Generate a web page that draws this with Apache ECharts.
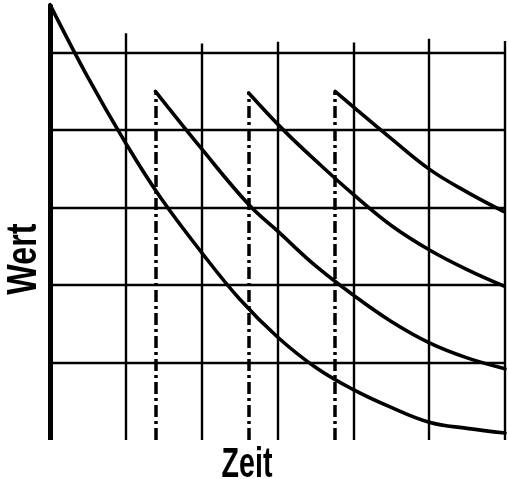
<!DOCTYPE html>
<html>
    <head>
        <meta charset="utf-8">
        <title>Wert / Zeit</title>
        <script src="https://cdn.jsdelivr.net/npm/echarts@6/dist/echarts.min.js"></script>
    </head>
    <body style="margin:0;background:#fff;">
        <style>
            html, body, #main {
                width: 509px;
                height: 479px;
            }
        </style>
        <div id="main"></div>
        <script>
            // grid in chart units (one cell = 1)
            var gridRows = [1, 2, 3, 4, 5];
            var gridCols = [1, 2, 3, 4, 5, 6];
            var colTops = [5.25, 5.12, 5.14, 5.13, 5.18, 5.15];
            var axisTop = 5.62;

            // decay curves
            var curve1X = [0, 0.5, 1.0, 1.45, 2.0, 2.5, 3.0, 3.5, 4.0, 4.5, 5.0, 5.5, 6.0];
            var curve1Y = [5.62, 4.68, 3.83, 3.14, 2.42, 1.82, 1.33, 0.94, 0.65, 0.42, 0.23, 0.15, 0.09];
            var curve2X = [1.39, 1.99, 2.62, 3.01, 3.5, 4.0, 4.5, 5.01, 5.5, 6.0];
            var curve2Y = [4.50, 3.77, 3.04, 2.69, 2.25, 1.87, 1.53, 1.25, 1.06, 0.92];
            var curve3X = [2.62, 3.08, 3.5, 4.0, 4.5, 5.01, 5.5, 5.98];
            var curve3Y = [4.48, 4.00, 3.61, 3.17, 2.77, 2.45, 2.20, 1.99];
            var curve4X = [3.76, 4.0, 4.5, 5.01, 5.5, 5.98];
            var curve4Y = [4.50, 4.30, 3.89, 3.49, 3.20, 2.95];

            // dash-dot drop lines (x, top)
            var dropX = [1.39, 2.62, 3.76];
            var dropTop = [4.50, 4.48, 4.50];

            var toPairs = function (xs, ys) {
                return xs.map(function (x, i) { return [x, ys[i]]; });
            };

            var seg = function (a, b, w, type) {
                return [
                    { coord: a, lineStyle: { width: w, type: type || 'solid', color: '#000' } },
                    { coord: b }
                ];
            };

            var frame = [];
            gridRows.forEach(function (r) {
                frame.push(seg([0, r], [6, r], 2.4));
            });
            gridCols.forEach(function (c, i) {
                frame.push(seg([c, 0], [c, colTops[i]], 2.4));
            });
            frame.push(seg([0, 0], [0, axisTop], 5));
            frame.push(seg([-0.03, 0], [6, 0], 3));
            dropX.forEach(function (x, i) {
                frame.push(seg([x, 0], [x, dropTop[i]], 3.5, [12, 4, 3, 4]));
            });

            var curve = function (xs, ys) {
                return {
                    type: 'line',
                    data: toPairs(xs, ys),
                    smooth: 0.4,
                    symbol: 'none',
                    silent: true,
                    lineStyle: { color: '#000', width: 3.6, cap: 'round', join: 'round' }
                };
            };

            var chart = echarts.init(document.getElementById('main'));

            var series = [curve(curve1X, curve1Y), curve(curve2X, curve2Y),
                          curve(curve3X, curve3Y), curve(curve4X, curve4Y)];
            series[0].markLine = {
                silent: true,
                symbol: 'none',
                label: { show: false },
                data: frame
            };

            var labelFont = 'bold 42px "Liberation Sans", Arial, sans-serif';

            chart.setOption({
                animation: false,
                backgroundColor: '#fff',
                grid: { left: 50, right: 4, top: 0, bottom: 39 },
                xAxis: {
                    type: 'value', min: 0, max: 6,
                    axisLine: { show: false }, axisTick: { show: false },
                    axisLabel: { show: false }, splitLine: { show: false }
                },
                yAxis: {
                    type: 'value', min: 0, max: 5.68,
                    axisLine: { show: false }, axisTick: { show: false },
                    axisLabel: { show: false }, splitLine: { show: false }
                },
                graphic: [
                    {
                        type: 'text', x: 24, y: 259, rotation: Math.PI / 2,
                        scaleX: 0.77,
                        style: {
                            text: 'Wert', align: 'center', verticalAlign: 'middle',
                            font: labelFont, fill: '#000'
                        }
                    },
                    {
                        type: 'text', x: 247, y: 465,
                        scaleX: 0.68,
                        style: {
                            text: 'Zeit', align: 'center', verticalAlign: 'middle',
                            font: labelFont, fill: '#000'
                        }
                    }
                ],
                series: series
            });
        </script>
    </body>
</html>
